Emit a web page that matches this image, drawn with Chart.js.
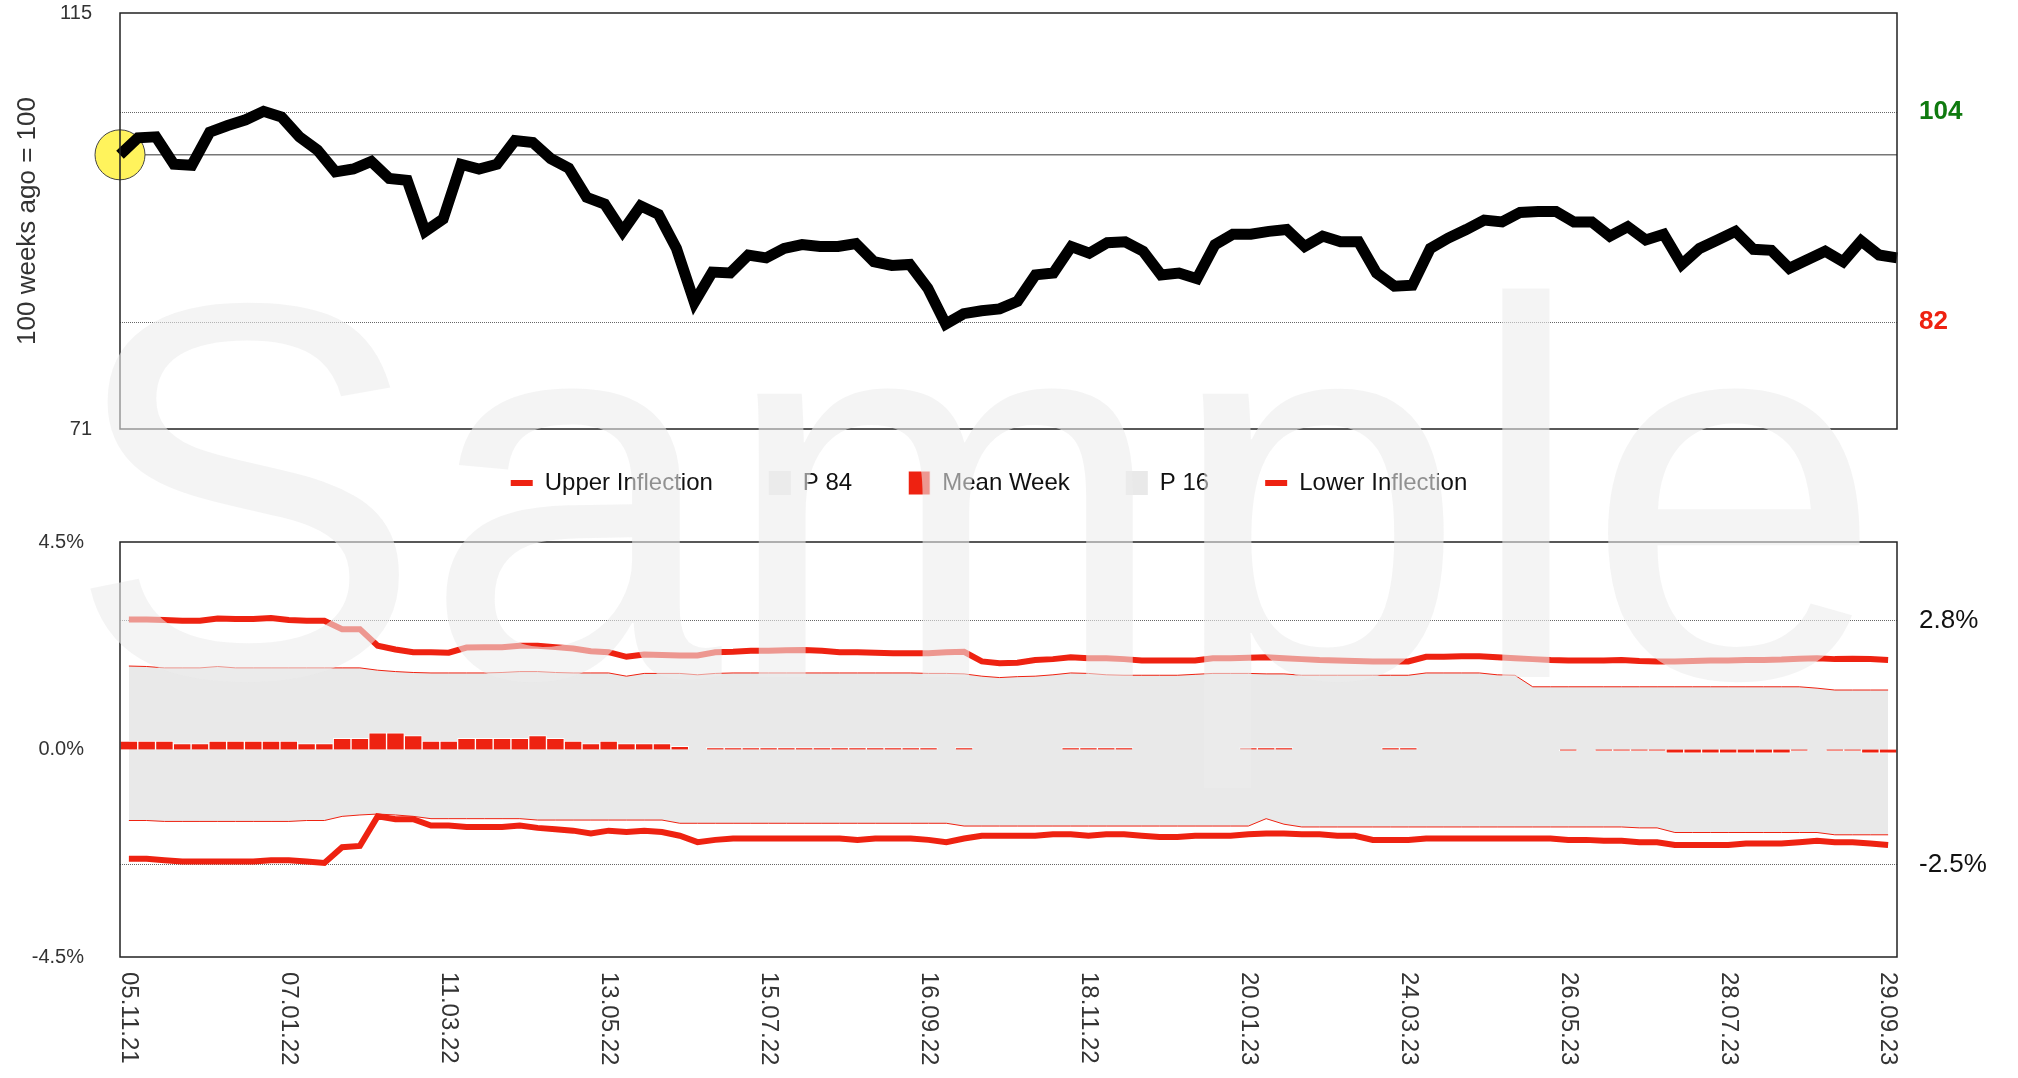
<!DOCTYPE html>
<html>
<head>
<meta charset="utf-8">
<script src="https://cdn.jsdelivr.net/npm/chart.js@4.4.1/dist/chart.umd.min.js"></script>
<style>
  html, body { margin: 0; padding: 0; background: #fff; }
  body { width: 2018px; height: 1078px; position: relative; overflow: hidden; }
  #topWrap { position: absolute; left: 0; top: 0; }
  #bottomWrap { position: absolute; left: 0; top: 415px; }
  #watermark {
    position: absolute; left: 66px; top: 224px; z-index: 10;
    font-family: "Liberation Sans", Arial, sans-serif; font-size: 536px; line-height: 536px;
    color: rgba(236, 236, 236, 0.58); pointer-events: none; white-space: nowrap;
  }
</style>
</head>
<body>
<div id="topWrap"><canvas id="topChart" width="2018" height="445"></canvas></div>
<div id="bottomWrap"><canvas id="bottomChart" width="2018" height="663"></canvas></div>
<div id="watermark">Sample</div>
<script>
// index, 100 weeks ago = 100
const indexValues = [
  100.0, 101.8, 101.9, 99.0, 98.9, 102.4, 103.1, 103.7, 104.6, 104.0,
  101.9, 100.5, 98.2, 98.5, 99.3, 97.5, 97.3, 91.9, 93.2, 99.0,
  98.5, 99.0, 101.5, 101.3, 99.6, 98.6, 95.5, 94.8, 91.9, 94.6,
  93.7, 90.1, 84.4, 87.6, 87.5, 89.4, 89.1, 90.1, 90.5, 90.3,
  90.3, 90.6, 88.7, 88.3, 88.4, 85.9, 82.1, 83.2, 83.5, 83.7,
  84.5, 87.3, 87.5, 90.3, 89.6, 90.7, 90.8, 89.8, 87.3, 87.5,
  86.9, 90.5, 91.6, 91.6, 91.9, 92.1, 90.3, 91.4, 90.8, 90.8,
  87.5, 86.1, 86.2, 90.1, 91.2, 92.1, 93.1, 92.9, 93.9, 94.0,
  94.0, 92.9, 92.9, 91.4, 92.4, 91.0, 91.6, 88.4, 90.1, 91.0,
  91.9, 90.0, 89.9, 88.0, 88.9, 89.8, 88.7, 90.9, 89.4, 89.1
];

// weekly returns, %
const upperInflection = [
  2.82, 2.82, 2.81, 2.79, 2.79, 2.84, 2.83, 2.83, 2.85, 2.81,
  2.79, 2.79, 2.61, 2.61, 2.25, 2.17, 2.11, 2.11, 2.10, 2.21,
  2.22, 2.22, 2.25, 2.25, 2.22, 2.19, 2.13, 2.11, 2.01, 2.06,
  2.05, 2.04, 2.04, 2.11, 2.12, 2.14, 2.14, 2.15, 2.16, 2.14,
  2.11, 2.11, 2.10, 2.09, 2.09, 2.09, 2.11, 2.12, 1.91, 1.87,
  1.88, 1.94, 1.96, 2.00, 1.98, 1.98, 1.96, 1.93, 1.93, 1.93,
  1.93, 1.98, 1.98, 1.99, 2.00, 1.98, 1.96, 1.94, 1.93, 1.92,
  1.91, 1.91, 1.91, 2.01, 2.01, 2.02, 2.02, 2.00, 1.98, 1.96,
  1.94, 1.93, 1.93, 1.93, 1.94, 1.92, 1.91, 1.91, 1.92, 1.93,
  1.93, 1.94, 1.94, 1.95, 1.97, 1.98, 1.96, 1.97, 1.96, 1.94
];
const p84 = [
  1.81, 1.80, 1.77, 1.77, 1.77, 1.80, 1.77, 1.77, 1.77, 1.77,
  1.77, 1.77, 1.77, 1.77, 1.72, 1.69, 1.67, 1.66, 1.66, 1.66,
  1.66, 1.67, 1.69, 1.69, 1.67, 1.66, 1.66, 1.66, 1.59, 1.65,
  1.65, 1.65, 1.62, 1.65, 1.66, 1.66, 1.66, 1.66, 1.66, 1.66,
  1.66, 1.66, 1.66, 1.66, 1.66, 1.65, 1.65, 1.64, 1.59, 1.56,
  1.58, 1.59, 1.62, 1.66, 1.65, 1.62, 1.61, 1.61, 1.61, 1.61,
  1.63, 1.65, 1.65, 1.65, 1.64, 1.64, 1.61, 1.61, 1.61, 1.61,
  1.61, 1.61, 1.61, 1.66, 1.66, 1.66, 1.66, 1.62, 1.61, 1.36,
  1.36, 1.36, 1.36, 1.36, 1.36, 1.36, 1.36, 1.36, 1.36, 1.36,
  1.36, 1.36, 1.36, 1.36, 1.36, 1.33, 1.29, 1.29, 1.29, 1.29
];
const meanWeek = [
  0.18, 0.18, 0.18, 0.13, 0.13, 0.18, 0.18, 0.18, 0.18, 0.18,
  0.13, 0.13, 0.24, 0.24, 0.36, 0.36, 0.30, 0.18, 0.18, 0.24,
  0.24, 0.24, 0.24, 0.30, 0.24, 0.18, 0.13, 0.18, 0.13, 0.13,
  0.13, 0.07, 0, 0.04, 0.04, 0.04, 0.04, 0.04, 0.04, 0.04,
  0.04, 0.04, 0.04, 0.04, 0.04, 0.04, 0, 0.04, 0, 0,
  0, 0, 0, 0.04, 0.04, 0.04, 0.04, 0, 0, 0,
  0, 0, 0, 0.04, 0.04, 0.04, 0, 0, 0, 0,
  0, 0.04, 0.04, 0, 0, 0, 0, 0, 0, 0,
  0, -0.03, 0, -0.03, -0.03, -0.03, -0.03, -0.08, -0.08, -0.08,
  -0.08, -0.08, -0.08, -0.08, -0.03, 0, -0.03, -0.03, -0.08, -0.08
];
const p16 = [
  -1.54, -1.54, -1.56, -1.56, -1.56, -1.56, -1.56, -1.56, -1.56, -1.56,
  -1.54, -1.54, -1.45, -1.42, -1.40, -1.42, -1.45, -1.50, -1.50, -1.50,
  -1.50, -1.50, -1.50, -1.53, -1.53, -1.53, -1.53, -1.53, -1.53, -1.53,
  -1.53, -1.60, -1.60, -1.60, -1.60, -1.60, -1.60, -1.60, -1.60, -1.60,
  -1.60, -1.60, -1.60, -1.60, -1.60, -1.60, -1.60, -1.66, -1.66, -1.66,
  -1.66, -1.66, -1.66, -1.66, -1.66, -1.66, -1.66, -1.66, -1.66, -1.66,
  -1.66, -1.66, -1.66, -1.66, -1.50, -1.62, -1.68, -1.68, -1.68, -1.68,
  -1.68, -1.68, -1.68, -1.68, -1.68, -1.68, -1.68, -1.68, -1.68, -1.68,
  -1.68, -1.68, -1.68, -1.68, -1.68, -1.70, -1.70, -1.80, -1.80, -1.80,
  -1.80, -1.80, -1.80, -1.80, -1.80, -1.80, -1.85, -1.85, -1.85, -1.85
];
const lowerInflection = [
  -2.37, -2.37, -2.40, -2.43, -2.43, -2.43, -2.43, -2.43, -2.40, -2.40,
  -2.43, -2.46, -2.12, -2.09, -1.45, -1.51, -1.51, -1.65, -1.65, -1.68,
  -1.68, -1.68, -1.65, -1.70, -1.73, -1.76, -1.82, -1.76, -1.79, -1.76,
  -1.79, -1.87, -2.01, -1.96, -1.93, -1.93, -1.93, -1.93, -1.93, -1.93,
  -1.93, -1.96, -1.93, -1.93, -1.93, -1.96, -2.01, -1.93, -1.87, -1.87,
  -1.87, -1.87, -1.84, -1.84, -1.87, -1.84, -1.84, -1.87, -1.90, -1.90,
  -1.87, -1.87, -1.87, -1.84, -1.82, -1.82, -1.84, -1.84, -1.87, -1.87,
  -1.96, -1.96, -1.96, -1.93, -1.93, -1.93, -1.93, -1.93, -1.93, -1.93,
  -1.93, -1.96, -1.96, -1.98, -1.98, -2.01, -2.01, -2.07, -2.07, -2.07,
  -2.07, -2.04, -2.04, -2.04, -2.01, -1.98, -2.01, -2.01, -2.04, -2.07
];

// axis marks
const topLeftTicks = [71, 100, 115];
const topRightTicks = [82.3, 104.5];
const topRightLabels = ['82', '104'];
const topRightColors = ['#ee2211', '#0f7a0f'];
const bottomLeftTicks = [-4.5, 0, 4.5];
const bottomRightTicks = [-2.5, 2.8];
const labelEvery = 9;

const firstWeek = Date.UTC(2021, 10, 5);
const weekLabels = indexValues.map((_, i) => {
  const d = new Date(firstWeek + i * 7 * 864e5);
  const dd = String(d.getUTCDate()).padStart(2, '0');
  const mm = String(d.getUTCMonth() + 1).padStart(2, '0');
  const yy = String(d.getUTCFullYear()).slice(2);
  return `${dd}.${mm}.${yy}`;
});

const RED = '#ee2211';
const FONT = '"Liberation Sans", Arial, sans-serif';
Chart.defaults.font.family = FONT;
Chart.defaults.color = '#333';

// keep tick labels from pushing the plot area in
const noLabelPadding = width => s => {
  s.width = width;
  s.paddingTop = 0;
  s.paddingBottom = 0;
};

const framePlugin = {
  id: 'frame',
  afterDraw(chart) {
    const { ctx, chartArea: a } = chart;
    ctx.save();
    ctx.strokeStyle = '#222';
    ctx.lineWidth = 1.5;
    ctx.strokeRect(a.left, a.top, a.width, a.height);
    ctx.restore();
  }
};

// date labels read top to bottom
const xLabelsPlugin = {
  id: 'xLabels',
  afterDraw(chart) {
    const { ctx, chartArea } = chart;
    const x = chart.scales.x;
    ctx.save();
    ctx.font = '24px ' + FONT;
    ctx.fillStyle = '#333';
    ctx.textAlign = 'left';
    ctx.textBaseline = 'middle';
    weekLabels.forEach((lab, i) => {
      if (i % labelEvery !== 0) return;
      ctx.save();
      ctx.translate(x.getPixelForValue(i), chartArea.bottom + 15);
      ctx.rotate(Math.PI / 2);
      ctx.fillText(lab, 0, 0);
      ctx.restore();
    });
    ctx.restore();
  }
};

new Chart(document.getElementById('topChart'), {
  type: 'line',
  data: {
    labels: weekLabels,
    datasets: [
      {
        label: 'Index',
        data: indexValues,
        borderColor: '#000',
        borderWidth: 11,
        borderJoinStyle: 'miter',
        pointRadius: 0,
        order: 1
      },
      {
        label: 'Start',
        data: indexValues.map((v, i) => (i === 0 ? v : null)),
        showLine: false,
        pointRadius: 25,
        pointBackgroundColor: '#fff35c',
        pointBorderColor: '#444',
        pointBorderWidth: 1,
        clip: false,
        order: 2
      }
    ]
  },
  options: {
    responsive: false,
    animation: false,
    events: [],
    layout: { autoPadding: false, padding: { top: 13, bottom: 16, left: 0, right: 0 } },
    plugins: { legend: { display: false }, tooltip: { enabled: false } },
    scales: {
      x: { display: false },
      y: {
        position: 'left',
        min: 71,
        max: 115,
        afterBuildTicks: s => { s.ticks = topLeftTicks.map(v => ({ value: v })); },
        afterFit: noLabelPadding(120),
        ticks: {
          padding: 28,
          color: '#333',
          font: { size: 20 },
          callback: v => (v === 100 ? '' : String(v))
        },
        grid: {
          drawTicks: false,
          color: ctx => (ctx.tick && ctx.tick.value === 100 ? '#777' : 'rgba(0,0,0,0)'),
          lineWidth: 1.5
        },
        border: { display: false },
        title: {
          display: true,
          text: '100 weeks ago = 100',
          color: '#333',
          font: { size: 26 },
          padding: { top: 12, bottom: 0 }
        }
      },
      y2: {
        position: 'right',
        min: 71,
        max: 115,
        afterBuildTicks: s => { s.ticks = topRightTicks.map(v => ({ value: v })); },
        afterFit: noLabelPadding(121),
        ticks: {
          padding: 22,
          font: { size: 26, weight: 'bold' },
          color: ctx => topRightColors[ctx.index],
          callback: (v, i) => topRightLabels[i]
        },
        grid: { drawTicks: false, color: '#666', lineWidth: 1 },
        border: { display: false, dash: [1, 1] }
      }
    }
  },
  plugins: [framePlugin]
});

new Chart(document.getElementById('bottomChart'), {
  type: 'bar',
  data: {
    labels: weekLabels,
    datasets: [
      {
        type: 'line', label: 'Upper Inflection', data: upperInflection,
        borderColor: RED, borderWidth: 6, pointRadius: 0, order: 1,
        legendShape: 'line', legendFill: RED, legendStroke: RED, legendLine: 6
      },
      {
        type: 'line', label: 'P 84', data: p84,
        borderColor: RED, borderWidth: 1, backgroundColor: '#e9e9e9', fill: 3,
        pointRadius: 0, order: 4,
        legendShape: 'rect', legendFill: '#e9e9e9', legendStroke: '#e9e9e9', legendLine: 0
      },
      {
        type: 'bar', label: 'Mean Week', data: meanWeek,
        backgroundColor: RED, borderColor: '#fff', borderWidth: 1,
        barPercentage: 1, categoryPercentage: 1, order: 3,
        legendShape: 'rect', legendFill: RED, legendStroke: '#fff', legendLine: 1
      },
      {
        type: 'line', label: 'P 16', data: p16,
        borderColor: RED, borderWidth: 1, pointRadius: 0, order: 2,
        legendShape: 'rect', legendFill: '#e9e9e9', legendStroke: '#e9e9e9', legendLine: 0
      },
      {
        type: 'line', label: 'Lower Inflection', data: lowerInflection,
        borderColor: RED, borderWidth: 6, pointRadius: 0, order: 1,
        legendShape: 'line', legendFill: RED, legendStroke: RED, legendLine: 6
      }
    ]
  },
  options: {
    responsive: false,
    animation: false,
    events: [],
    // legend sits a little left of the page centre
    layout: { autoPadding: false, padding: { top: 0, bottom: 0, left: -20, right: 20 } },
    plugins: {
      tooltip: { enabled: false },
      legend: {
        display: true,
        position: 'top',
        labels: {
          usePointStyle: true,
          pointStyleWidth: 22,
          boxHeight: 24,
          padding: 56,
          color: '#111',
          font: { size: 24 },
          generateLabels: chart => chart.data.datasets.map((ds, i) => ({
            text: ds.label,
            datasetIndex: i,
            hidden: false,
            pointStyle: ds.legendShape,
            fillStyle: ds.legendFill,
            strokeStyle: ds.legendStroke,
            lineWidth: ds.legendLine,
            fontColor: '#111'
          }))
        }
      },
      // empty spacer between legend and plot
      title: { display: true, text: '', weight: 500, padding: 0, font: { size: 37, lineHeight: 1 } }
    },
    scales: {
      x: {
        grid: { display: false },
        border: { display: false },
        ticks: { display: false },
        afterFit: s => { s.height = 121; }
      },
      y: {
        position: 'left',
        min: -4.5,
        max: 4.5,
        afterBuildTicks: s => { s.ticks = bottomLeftTicks.map(v => ({ value: v })); },
        afterFit: noLabelPadding(140),
        ticks: { padding: 28, color: '#333', font: { size: 20 }, callback: v => v.toFixed(1) + '%' },
        grid: { display: false },
        border: { display: false }
      },
      y2: {
        position: 'right',
        min: -4.5,
        max: 4.5,
        afterBuildTicks: s => { s.ticks = bottomRightTicks.map(v => ({ value: v })); },
        afterFit: noLabelPadding(101),
        ticks: { padding: 22, color: '#111', font: { size: 26 }, callback: v => v.toFixed(1) + '%' },
        grid: { drawTicks: false, color: '#666', lineWidth: 1 },
        border: { display: false, dash: [1, 1] }
      }
    }
  },
  plugins: [framePlugin, xLabelsPlugin]
});
</script>
</body>
</html>
